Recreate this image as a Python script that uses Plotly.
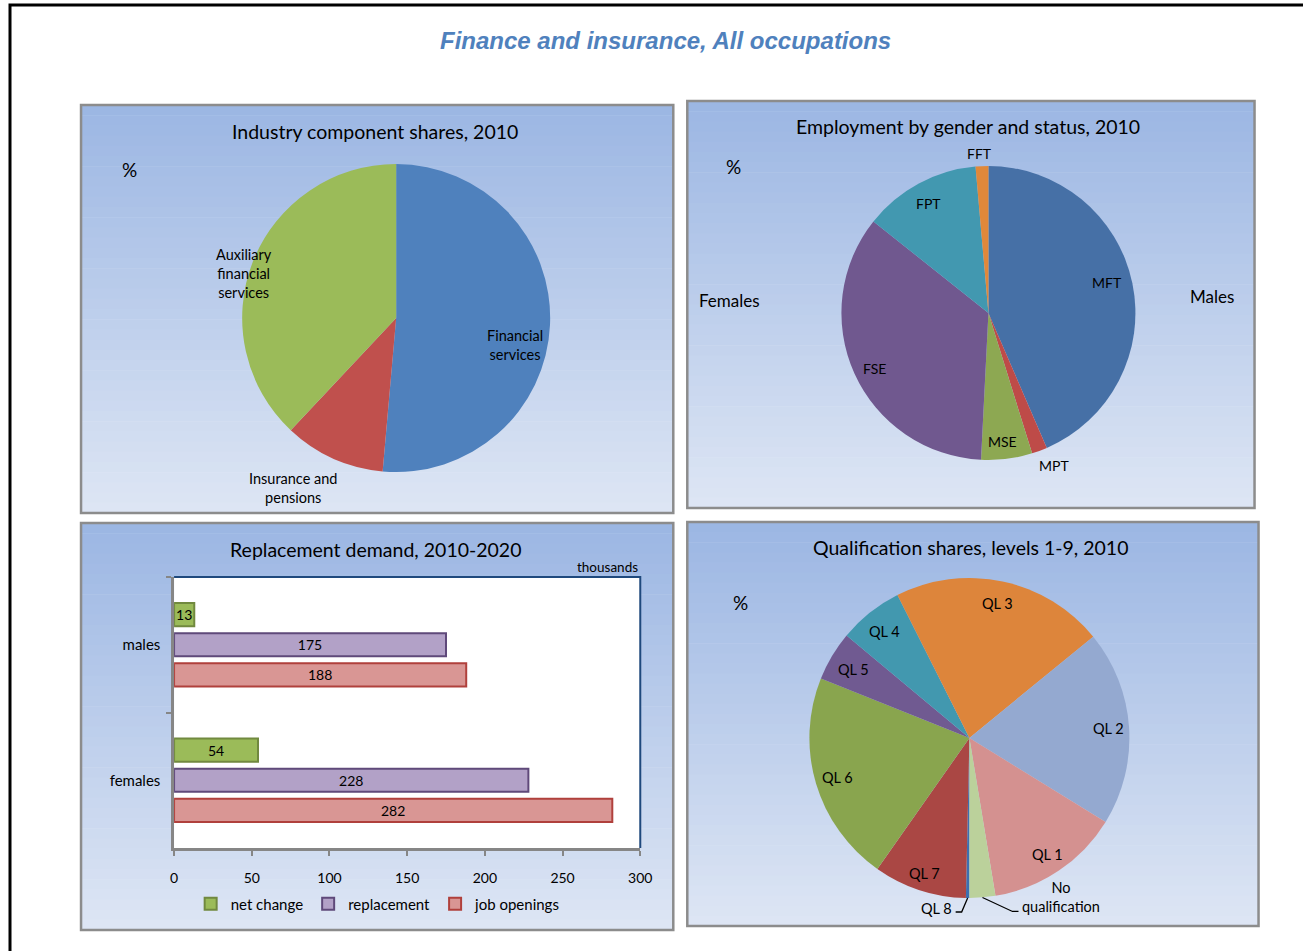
import math
import plotly.graph_objects as go

W, H = 1303, 951

# ---------------- data ----------------
industry_labels = ["Financial services", "Insurance and pensions", "Auxiliary financial services"]
industry_text = ["Financial<br>services", "Insurance and<br>pensions", "Auxiliary<br>financial<br>services"]
industry_values = [51.4, 10.6, 38.0]

employment_labels = ["MFT", "MPT", "MSE", "FSE", "FPT", "FFT"]
employment_values = [43.5, 1.7, 5.6, 34.9, 12.9, 1.4]

qual_labels = ["QL 8", "QL 7", "QL 6", "QL 5", "QL 4", "QL 3", "QL 2", "QL 1", "No qualification"]
qual_text = ["QL 8", "QL 7", "QL 6", "QL 5", "QL 4", "QL 3", "QL 2", "QL 1", "No<br>qualification"]
qual_values = [0.35, 9.4, 21.3, 5.0, 6.5, 21.5, 19.7, 13.6, 2.6]

demand_groups = ["males", "females"]
net_change = [13, 54]
replacement = [175, 228]
job_openings = [188, 282]
x_ticks = [0, 50, 100, 150, 200, 250, 300]

# ---------------- styles ----------------
FONT = "Lato"
industry_colors = ["#4F81BD", "#C0504D", "#9BBB59"]
employment_colors = ["#4670A6", "#BE4B48", "#8DA852", "#70588F", "#4298B0", "#E0883A"]
qual_colors = ["#3D6FB0", "#AA4744", "#89A54E", "#705A91", "#4298AF", "#DD853B", "#94A9D0", "#D49190", "#BBD19B"]

# the rendered page ends up slightly narrower than the window: compensate horizontally
SX, OX = 0.9873, 4.0


def px(x):
    return (x - OX) / (W * SX)


def py(y):
    return 1 - y / H


fig = go.Figure()
shapes = []
annotations = []

# outer frame (top + left)
shapes.append(dict(type="path", xref="paper", yref="paper",
                   path=f"M {px(10)} {py(951)} L {px(10)} {py(5)} L {px(1310)} {py(5)}",
                   line=dict(color="black", width=3), layer="below"))

panels = [(81, 105, 673, 513), (687, 101, 1254, 508), (81, 523, 673, 930), (687, 522, 1258, 926)]
top_c = (155, 182, 227)
bot_c = (222, 230, 244)
NSTRIP = 40
for (x0, y0, x1, y1) in panels:
    h = (y1 - y0) / NSTRIP
    for i in range(NSTRIP):
        t = (i + 0.5) / NSTRIP
        c = tuple(int(round(top_c[k] + (bot_c[k] - top_c[k]) * t)) for k in range(3))
        shapes.append(dict(type="rect", xref="paper", yref="paper",
                           x0=px(x0), x1=px(x1), y0=py(y0 + i * h), y1=py(y0 + (i + 1) * h + 0.6),
                           fillcolor=f"rgb{c}", line=dict(width=0), layer="below"))
    shapes.append(dict(type="rect", xref="paper", yref="paper",
                       x0=px(x0), x1=px(x1), y0=py(y0), y1=py(y1),
                       line=dict(color="#8C8C8C", width=2.5), fillcolor="rgba(0,0,0,0)", layer="below"))


def add_text(x, y, text, size=13, xanchor="center", color="black", family=FONT):
    annotations.append(dict(x=px(x), y=py(y), xref="paper", yref="paper", text=text,
                            showarrow=False, xanchor=xanchor, yanchor="middle",
                            font=dict(family=family, size=size, color=color)))


# main title
add_text(665, 41, "<b><i>Finance and insurance, All occupations</i></b>", size=24,
         color="#4F81BD", family="Liberation Sans")

# panel titles
add_text(375, 131, "Industry component shares, 2010", size=19.5)
add_text(968, 126, "Employment by gender and status, 2010", size=19.5)
add_text(375, 549, "Replacement demand, 2010-2020", size=19.5)
add_text(971, 547, "Qualification shares, levels 1-9, 2010", size=19.5)

add_text(129, 169, "%", size=19)
add_text(733, 166, "%", size=19)
add_text(740, 602, "%", size=19)
add_text(729, 300, "Females", size=17)
add_text(1211, 296, "Males", size=17)


def pie_trace(values, labels, colors, cx, cy, r, rotation):
    return go.Pie(values=values, labels=labels, sort=False, direction="clockwise",
                  rotation=rotation, textinfo="none", hoverinfo="label+value",
                  marker=dict(colors=colors, line=dict(width=0)), showlegend=False,
                  domain=dict(x=[px(cx - r), px(cx + r)], y=[py(cy + r), py(cy - r)]))


def pie_label_pos(values, start, cx, cy, r, i, factor, nudge=0.0):
    total = sum(values)
    cum = sum(values[:i])
    mid = start + (cum + values[i] / 2) / total * 360 + nudge
    a = math.radians(mid)
    return cx + factor * r * math.sin(a), cy - factor * r * math.cos(a), mid


# pie 1
P1 = (396, 318, 154)
fig.add_trace(pie_trace(industry_values, industry_labels, industry_colors, *P1, 0))
p1_factor = [0.79, 1.29, 1.03]
p1_nudge = [10.3, 7.3, -5.3]
for i, t in enumerate(industry_text):
    x, y, _ = pie_label_pos(industry_values, 0, *P1, i, p1_factor[i], p1_nudge[i])
    add_text(x, y, t, size=14.5)

# pie 2
P2 = (988, 313, 147)
fig.add_trace(pie_trace(employment_values, employment_labels, employment_colors, *P2, 0))
p2_factor = [0.83, 1.13, 0.88, 0.86, 0.85, 1.09]
p2_nudge = [-2.6, -2.8, 0.8, -1.5, -0.3, -0.7]
for i, t in enumerate(employment_labels):
    x, y, _ = pie_label_pos(employment_values, 0, *P2, i, p2_factor[i], p2_nudge[i])
    add_text(x, y, t, size=14)

# pie 4
P4 = (969, 738, 160)
fig.add_trace(pie_trace(qual_values, qual_labels, qual_colors, *P4, 180))
p4_factor = [None, 0.89, 0.86, 0.84, 0.85, 0.86, 0.87, 0.875, None]
for i, t in enumerate(qual_text):
    if p4_factor[i] is None:
        continue
    x, y, _ = pie_label_pos(qual_values, 180, *P4, i, p4_factor[i])
    add_text(x, y, t, size=14.5)

# leader-line labels (QL 8, No qualification)
ex, ey, _ = pie_label_pos(qual_values, 180, *P4, 0, 1.0)
shapes.append(dict(type="path", xref="paper", yref="paper",
                   path=f"M {px(ex)} {py(ey)} L {px(ex - 6)} {py(ey + 14)} L {px(ex - 12)} {py(ey + 14)}",
                   line=dict(color="black", width=1.3)))
add_text(ex - 14, ey + 11, qual_text[0], size=14.5, xanchor="right")
ex, ey, _ = pie_label_pos(qual_values, 180, *P4, 8, 1.0)
shapes.append(dict(type="path", xref="paper", yref="paper",
                   path=f"M {px(ex)} {py(ey)} L {px(ex + 30)} {py(ey + 14)} L {px(ex + 36)} {py(ey + 14)}",
                   line=dict(color="black", width=1.3)))
add_text(ex + 78, ey, qual_text[8], size=14.5)

# ---------------- bar chart ----------------
bar_series = [
    ("net change", net_change, "#9BBB59", "#71893F"),
    ("replacement", replacement, "#B2A1C7", "#5F497A"),
    ("job openings", job_openings, "#D99694", "#B0403C"),
]
for name, vals, fill, edge in bar_series:
    fig.add_trace(go.Bar(
        name=name, y=demand_groups, x=vals, orientation="h",
        marker=dict(color=fill, line=dict(color=edge, width=2)),
        text=[str(v) for v in vals], textposition="inside", insidetextanchor="middle",
        constraintext="none", textangle=0, cliponaxis=False,
        textfont=dict(family=FONT, size=14, color="black"),
        xaxis="x", yaxis="y"))

# plot area (white) with dark-blue top/right frame
shapes.append(dict(type="rect", xref="x domain", yref="y domain", x0=0, x1=1, y0=0, y1=1,
                   fillcolor="white", line=dict(width=0), layer="below"))
shapes.append(dict(type="path", xref="x domain", yref="y domain", path="M 0 1 L 1 1 L 1 0",
                   line=dict(color="#1F497D", width=2), layer="below"))
add_text(607, 567, "thousands", size=13.5)

fig.update_layout(
    width=W, height=H, autosize=False, margin=dict(l=0, r=0, t=0, b=0),
    paper_bgcolor="white", plot_bgcolor="white",
    barmode="group", bargap=0.333, bargroupgap=0.23,
    shapes=shapes, annotations=annotations,
    font=dict(family=FONT, size=13, color="black"),
    xaxis=dict(domain=[px(174), px(640)], range=[0, 300], tickvals=x_ticks,
               ticks="outside", ticklen=5, tickwidth=1.5, tickcolor="#868686",
               showline=True, linecolor="#868686", linewidth=2.5,
               showgrid=False, zeroline=False, ticklabelstandoff=10,
               tickfont=dict(family=FONT, size=14, color="black"), anchor="y"),
    yaxis=dict(domain=[py(848), py(577)], type="category", categoryorder="array",
               categoryarray=demand_groups, range=[1.5, -0.5], tickson="boundaries",
               ticks="outside", ticklen=5, tickwidth=1.5, tickcolor="#868686",
               showline=True, linecolor="#868686", linewidth=2.5, showgrid=False,
               ticklabelstandoff=8,
               tickfont=dict(family=FONT, size=15, color="black"), anchor="x"),
    legend=dict(orientation="h", x=px(378), y=py(904), xanchor="center", yanchor="middle",
                bgcolor="rgba(0,0,0,0)", font=dict(family=FONT, size=15, color="black"),
                itemwidth=30, traceorder="normal"),
    showlegend=True,
)

fig.write_html(
    "out.html",
    config={"displayModeBar": False, "responsive": False},
    post_script=("document.body.style.margin='0';document.body.style.overflow='hidden';"
                 "var gd=document.getElementById('{plot_id}');"
                 "Plotly.relayout(gd,{width:%d,height:%d});" % (W, H)),
)
